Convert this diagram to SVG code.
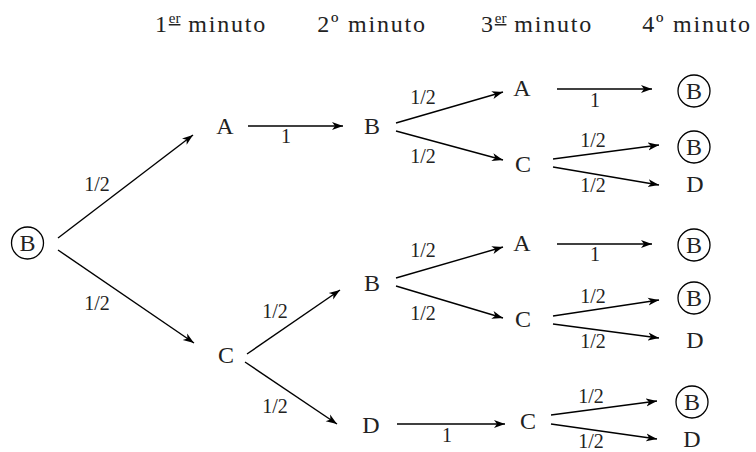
<svg xmlns="http://www.w3.org/2000/svg" width="756" height="452" viewBox="0 0 756 452" font-family="'Liberation Serif', 'Times New Roman', serif">
<defs>
<marker id="ah" markerUnits="userSpaceOnUse" markerWidth="13" markerHeight="9" refX="11" refY="4.5" orient="auto">
<path d="M0,0.5 L11,4.5 L0,8.5 L3,4.5 z" fill="#000"/>
</marker>
<style>
text,tspan{font-family:'Liberation Serif','Times New Roman',serif;fill:#222}
.h{font-size:24px;text-anchor:middle;letter-spacing:1.8px}
.n{font-size:24px;text-anchor:middle}
.l{font-size:20px;text-anchor:middle}
.sup{font-size:15px;text-decoration:underline;letter-spacing:0}
circle{fill:none;stroke:#000;stroke-width:1.3}
line{stroke:#000;stroke-width:1.4;marker-end:url(#ah)}
</style>
</defs>
<rect width="756" height="452" fill="#fff"/>
<g id="headers">
<text class="h" x="211" y="32">1<tspan class="sup" dy="-9">er</tspan><tspan dy="9"> minuto</tspan></text>
<text class="h" x="372" y="32">2º minuto</text>
<text class="h" x="537" y="32">3<tspan class="sup" dy="-9">er</tspan><tspan dy="9"> minuto</tspan></text>
<text class="h" x="697" y="32">4º minuto</text>
</g>
<g id="connectors">
<line x1="58" y1="238" x2="193" y2="135"/>
<line x1="58" y1="250" x2="194" y2="343"/>
<line x1="248" y1="126" x2="343" y2="126"/>
<line x1="247" y1="354" x2="340" y2="290"/>
<line x1="245" y1="362" x2="337" y2="424"/>
<line x1="397" y1="424" x2="505" y2="424"/>
<line x1="551" y1="415" x2="657" y2="401"/>
<line x1="551" y1="424" x2="657" y2="439"/>
<line x1="396" y1="123" x2="503" y2="92"/>
<line x1="396" y1="131" x2="503" y2="160"/>
<line x1="557" y1="89" x2="652" y2="89"/>
<line x1="553" y1="159" x2="659" y2="145"/>
<line x1="553" y1="167" x2="659" y2="185"/>
<line x1="396" y1="278" x2="503" y2="247"/>
<line x1="396" y1="286" x2="503" y2="318"/>
<line x1="557" y1="244" x2="652" y2="244"/>
<line x1="553" y1="316" x2="659" y2="300"/>
<line x1="553" y1="324" x2="659" y2="338"/>
</g>
<g id="edge-labels">
<text class="l" x="97" y="191">1/2</text>
<text class="l" x="97" y="310">1/2</text>
<text class="l" x="286" y="143">1</text>
<text class="l" x="275" y="318">1/2</text>
<text class="l" x="275" y="413">1/2</text>
<text class="l" x="447" y="442">1</text>
<text class="l" x="591" y="403">1/2</text>
<text class="l" x="591" y="448">1/2</text>
<text class="l" x="423" y="104">1/2</text>
<text class="l" x="423" y="163">1/2</text>
<text class="l" x="595" y="107">1</text>
<text class="l" x="593" y="147">1/2</text>
<text class="l" x="593" y="192">1/2</text>
<text class="l" x="423" y="257">1/2</text>
<text class="l" x="423" y="320">1/2</text>
<text class="l" x="595" y="261">1</text>
<text class="l" x="593" y="303">1/2</text>
<text class="l" x="593" y="348">1/2</text>
</g>
<g id="n-root"><circle cx="27.5" cy="243" r="16"/><text class="n" x="27.5" y="251">B</text></g>
<g id="n-A1"><text class="n" x="225" y="134">A</text></g>
<g id="n-C1"><text class="n" x="226" y="363">C</text></g>
<g id="n-B2a"><text class="n" x="372" y="134">B</text></g>
<g id="n-B2b"><text class="n" x="372" y="291">B</text></g>
<g id="n-D2"><text class="n" x="371" y="433">D</text></g>
<g id="n-A3a"><text class="n" x="522" y="96">A</text></g>
<g id="n-C3a"><text class="n" x="523" y="172">C</text></g>
<g id="n-A3b"><text class="n" x="522" y="251">A</text></g>
<g id="n-C3b"><text class="n" x="523" y="327">C</text></g>
<g id="n-C3c"><text class="n" x="528" y="429">C</text></g>
<g id="n-B4a"><circle cx="694" cy="91" r="16"/><text class="n" x="694" y="99">B</text></g>
<g id="n-B4b"><circle cx="694" cy="147" r="16"/><text class="n" x="694" y="155">B</text></g>
<g id="n-D4a"><text class="n" x="695" y="192">D</text></g>
<g id="n-B4c"><circle cx="694" cy="245" r="16"/><text class="n" x="694" y="253">B</text></g>
<g id="n-B4d"><circle cx="694" cy="298" r="16"/><text class="n" x="694" y="306">B</text></g>
<g id="n-D4b"><text class="n" x="695" y="348">D</text></g>
<g id="n-B4e"><circle cx="692" cy="402" r="16"/><text class="n" x="692" y="410">B</text></g>
<g id="n-D4c"><text class="n" x="692" y="447">D</text></g>
</svg>
